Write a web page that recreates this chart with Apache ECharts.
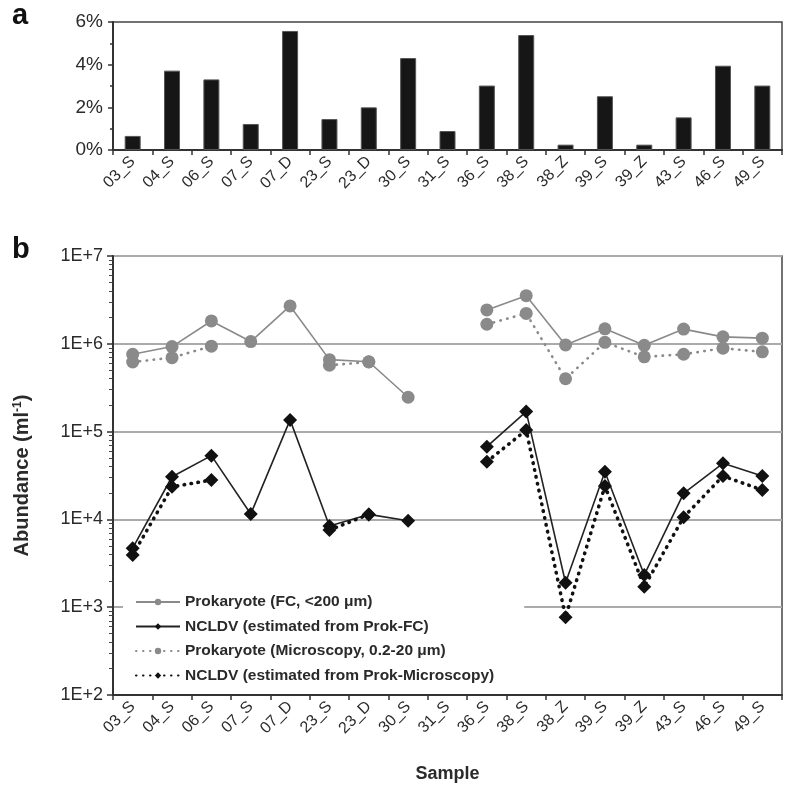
<!DOCTYPE html>
<html>
<head>
<meta charset="utf-8">
<script src="https://cdn.jsdelivr.net/npm/echarts@6/dist/echarts.min.js"></script>
<style>
html,body{margin:0;padding:0;background:#fff;}
#chart{width:785px;height:787px;}
</style>
</head>
<body>
<div id="chart"></div>
<script>
var samples = ['03_S','04_S','06_S','07_S','07_D','23_S','23_D','30_S','31_S','36_S','38_S','38_Z','39_S','39_Z','43_S','46_S','49_S'];
var pctNCLDV = [0.66,3.72,3.31,1.22,5.58,1.45,2.0,4.31,0.89,3.02,5.39,0.25,2.52,0.25,1.53,3.95,3.02];
var prokFC   = [7.6e5,9.3e5,1.82e6,1.06e6,2.7e6,6.6e5,6.25e5,2.46e5,null,2.43e6,3.53e6,9.7e5,1.48e6,9.6e5,1.47e6,1.2e6,1.16e6];
var ncldvFC  = [4700,30600,53200,11500,136000,8400,11400,9660,null,67300,169000,1900,34900,2330,19800,43500,31200];
var prokMic  = [6.2e5,6.95e5,9.4e5,null,null,5.7e5,6.2e5,null,null,1.67e6,2.22e6,4.0e5,1.04e6,7.1e5,7.6e5,8.9e5,8.1e5];
var ncldvMic = [3930,23500,28100,null,null,7570,11400,null,null,45400,104000,770,24000,1710,10600,31200,21600];
var pctTicks = [0,2,4,6];
var logLabels = {100:'1E+2',1000:'1E+3',10000:'1E+4',100000:'1E+5',1000000:'1E+6',10000000:'1E+7'};
var seriesNames = ['Prokaryote (FC, <200 \u03bcm)','NCLDV (estimated from Prok-FC)','Prokaryote (Microscopy, 0.2-20 \u03bcm)','NCLDV (estimated from Prok-Microscopy)'];

// minor log ticks 2..9 of each decade
var minorLog = [];
for (var d = 100; d < 1e7; d *= 10) { for (var m = 2; m <= 9; m++) minorLog.push(d * m); }

var txt = '#2a2a2a';
var font = 'Liberation Sans, Arial, sans-serif';
var chart = echarts.init(document.getElementById('chart'));
chart.setOption({
  animation: false,
  backgroundColor: '#fff',
  textStyle: {fontFamily: font},
  title: [
    {text: 'a', left: 7, top: -4, textStyle: {fontSize: 29, fontWeight: 'bold', color: '#111', fontFamily: font}},
    {text: 'b', left: 7, top: 230, textStyle: {fontSize: 29, fontWeight: 'bold', color: '#111', fontFamily: font}}
  ],
  grid: [
    {left: 113, right: 3, top: 22, height: 128, show: true, borderColor: '#444', borderWidth: 1.5, backgroundColor: 'transparent', outerBoundsMode: 'none', containLabel: false},
    {left: 113, right: 3, top: 256, height: 439, show: true, borderColor: '#444', borderWidth: 1.5, backgroundColor: 'transparent', outerBoundsMode: 'none', containLabel: false}
  ],
  legend: {
    orient: 'vertical', left: 123, top: 588,
    data: seriesNames,
    itemWidth: 44, itemHeight: 8, itemGap: 8.5,
    backgroundColor: '#fff',
    padding: [6, 30, 6, 12],
    textStyle: {fontSize: 15.5, fontWeight: 'bold', color: txt, fontFamily: font}
  },
  xAxis: [
    {type: 'category', gridIndex: 0, data: samples, boundaryGap: true,
     axisLine: {lineStyle: {color: '#333', width: 2}},
     axisTick: {show: true, alignWithLabel: false, length: 5, lineStyle: {color: '#333', width: 1.5}},
     axisLabel: {rotate: 45, fontSize: 16, color: txt, margin: 9, interval: 0}},
    {type: 'category', gridIndex: 1, data: samples, boundaryGap: true,
     name: 'Sample', nameLocation: 'middle', nameGap: 70,
     nameTextStyle: {fontSize: 18, fontWeight: 'bold', color: txt},
     axisLine: {lineStyle: {color: '#333', width: 2}},
     axisTick: {show: true, length: 5, lineStyle: {color: '#333', width: 1.5}},
     axisLabel: {rotate: 45, fontSize: 16, color: txt, margin: 9, interval: 0}}
  ],
  yAxis: [
    {type: 'value', gridIndex: 0, min: 0, max: 6, interval: 2,
     axisLine: {show: true, lineStyle: {color: '#333', width: 2}},
     axisTick: {show: true, length: 5, lineStyle: {color: '#333', width: 1.5}},
     minorTick: {show: true, splitNumber: 2, length: 3, lineStyle: {color: '#333', width: 1.5}},
     splitLine: {show: false},
     axisLabel: {fontSize: 19, color: txt, margin: 10, formatter: '{value}%', customValues: pctTicks}},
    {type: 'log', gridIndex: 1, logBase: 10, min: 100, max: 1e7,
     name: '{a|Abundance (ml}{s|-1}{a|)}', nameLocation: 'middle', nameGap: 80,
     nameTextStyle: {rich: {
       a: {fontSize: 20, fontWeight: 'bold', color: txt, fontFamily: font},
       s: {fontSize: 12, fontWeight: 'bold', color: txt, fontFamily: font, verticalAlign: 'top', padding: [0, 0, 9, 0]}
     }},
     axisLine: {show: true, lineStyle: {color: '#333', width: 2}},
     axisTick: {show: true, length: 6, lineStyle: {color: '#333', width: 1.5}},
     splitLine: {show: true, lineStyle: {color: '#aaa', width: 2}},
     axisLabel: {fontSize: 18, color: txt, margin: 10, formatter: function (v) { return logLabels[Math.round(v)] || ''; }}},
    {type: 'log', gridIndex: 1, logBase: 10, min: 100, max: 1e7, position: 'left', offset: 0,
     axisLine: {show: false},
     axisTick: {show: true, inside: false, length: 4, customValues: minorLog, lineStyle: {color: '#444', width: 1}},
     axisLabel: {show: false},
     splitLine: {show: false}}
  ],
  series: [
    {type: 'bar', xAxisIndex: 0, yAxisIndex: 0, data: pctNCLDV, barWidth: 16,
     itemStyle: {color: '#161616', borderColor: '#555', borderWidth: 1}},
    {name: seriesNames[0], type: 'line', xAxisIndex: 1, yAxisIndex: 1, data: prokFC, connectNulls: false,
     symbol: 'circle', symbolSize: 13, z: 3,
     itemStyle: {color: '#8a8a8a'}, lineStyle: {color: '#8a8a8a', width: 1.6}},
    {name: seriesNames[1], type: 'line', xAxisIndex: 1, yAxisIndex: 1, data: ncldvFC, connectNulls: false,
     symbol: 'diamond', symbolSize: 14, z: 4,
     itemStyle: {color: '#111'}, lineStyle: {color: '#222', width: 1.6}},
    {name: seriesNames[2], type: 'line', xAxisIndex: 1, yAxisIndex: 1, data: prokMic, connectNulls: false,
     symbol: 'circle', symbolSize: 13, z: 3,
     itemStyle: {color: '#8a8a8a'}, lineStyle: {color: '#8a8a8a', width: 2.6, type: [0.5, 6.5], cap: 'round'}},
    {name: seriesNames[3], type: 'line', xAxisIndex: 1, yAxisIndex: 1, data: ncldvMic, connectNulls: false,
     symbol: 'diamond', symbolSize: 14, z: 4,
     itemStyle: {color: '#111'}, lineStyle: {color: '#111', width: 3.6, type: [0.5, 6.5], cap: 'round'}}
  ]
});
</script>
</body>
</html>
